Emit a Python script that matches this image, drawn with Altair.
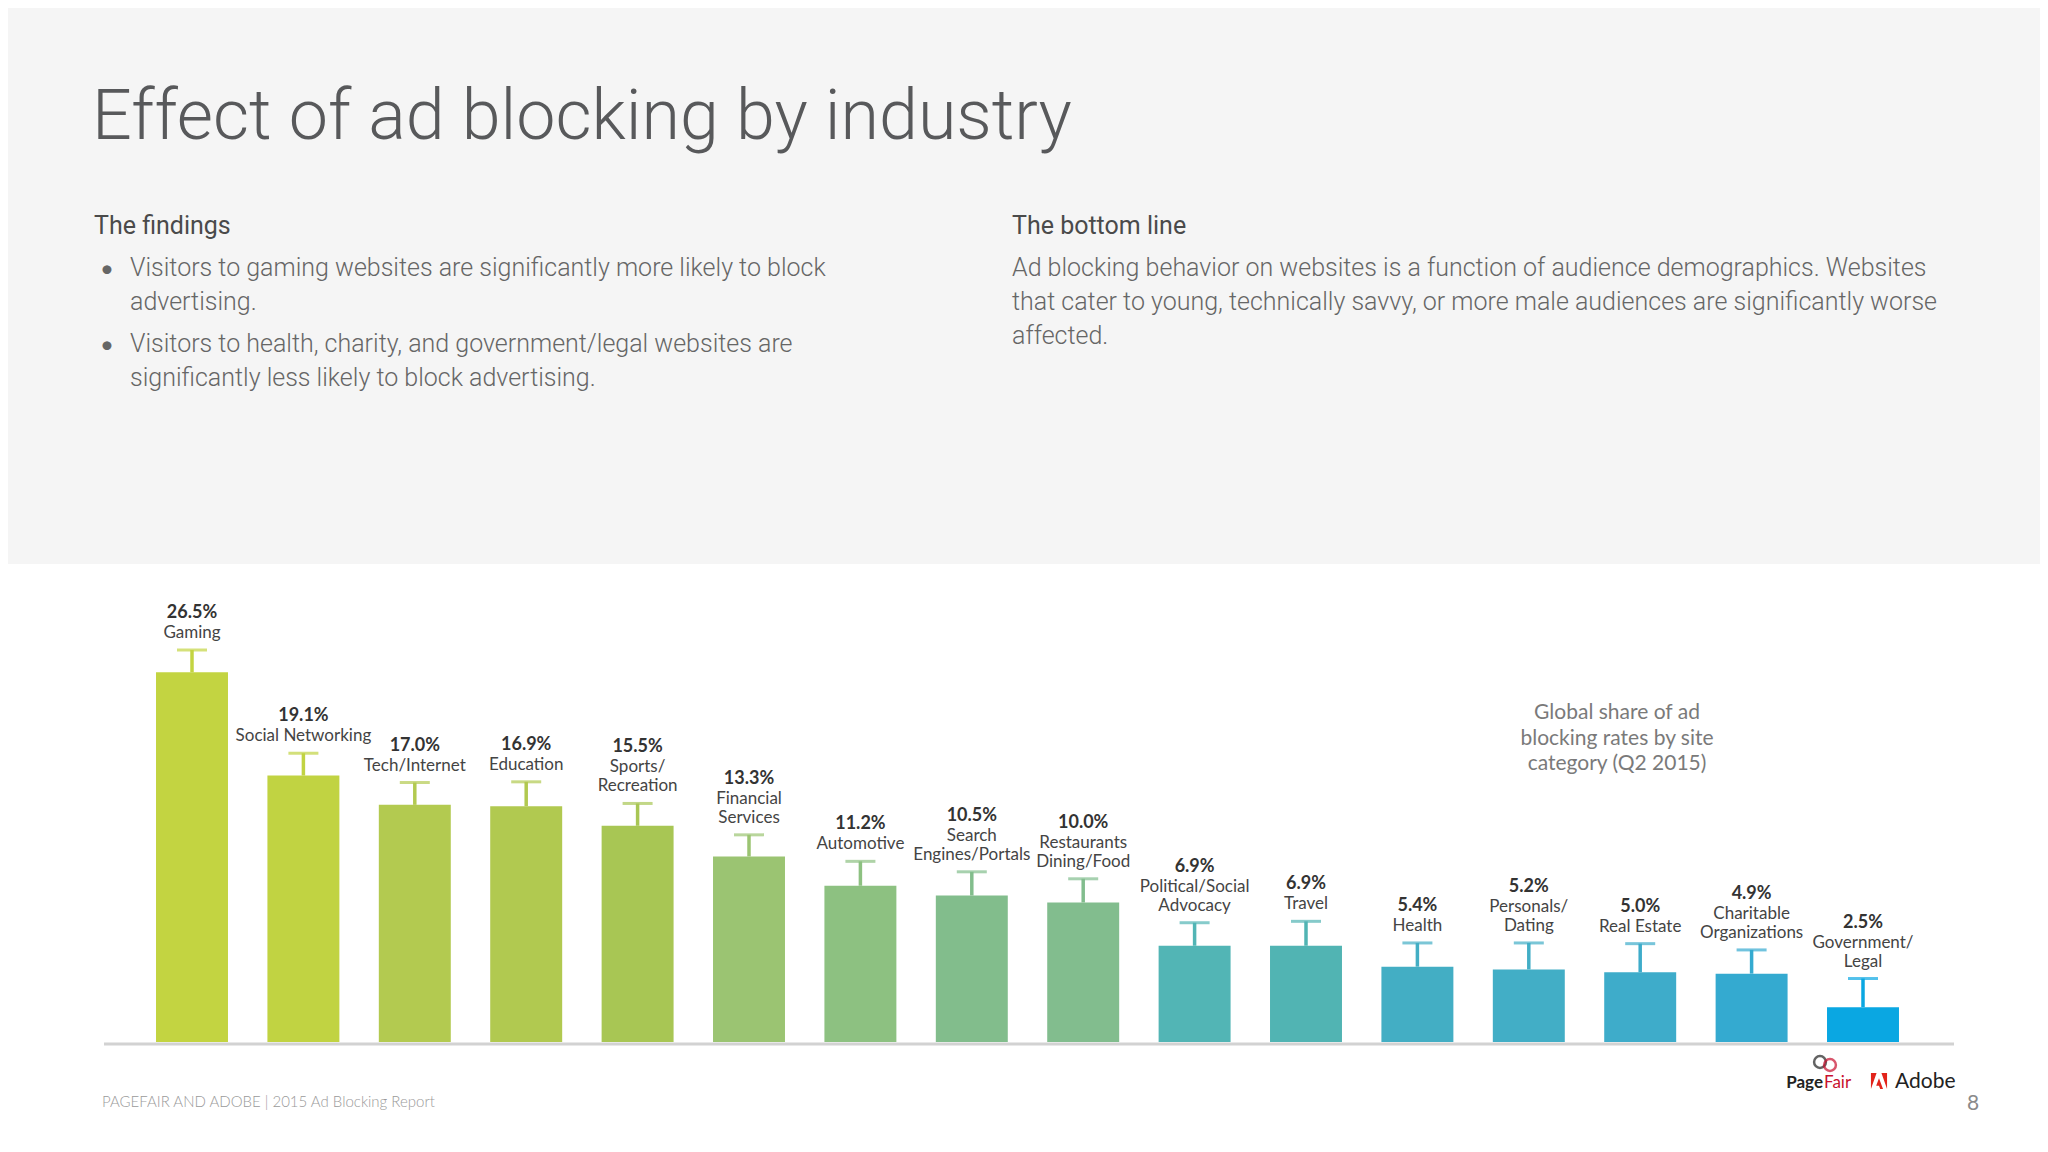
import altair as alt
import pandas as pd

# ---------------- data ----------------
categories = ["Gaming", "Social Networking", "Tech/Internet", "Education",
              "Sports/Recreation", "Financial Services", "Automotive",
              "Search Engines/Portals", "Restaurants Dining/Food",
              "Political/Social Advocacy", "Travel", "Health",
              "Personals/Dating", "Real Estate", "Charitable Organizations",
              "Government/Legal"]
labels = ["Gaming", "Social Networking", "Tech/Internet", "Education",
          "Sports/\nRecreation", "Financial\nServices", "Automotive",
          "Search\nEngines/Portals", "Restaurants\nDining/Food",
          "Political/Social\nAdvocacy", "Travel", "Health",
          "Personals/\nDating", "Real Estate", "Charitable\nOrganizations",
          "Government/\nLegal"]
values = [26.5, 19.1, 17.0, 16.9, 15.5, 13.3, 11.2, 10.5, 10.0,
          6.9, 6.9, 5.4, 5.2, 5.0, 4.9, 2.5]
errors = [1.6, 1.6, 1.6, 1.75, 1.6, 1.55, 1.75, 1.7, 1.7,
          1.65, 1.75, 1.7, 1.9, 2.05, 1.7, 2.05]
colors = ["#c3d441", "#c1d342", "#b3ca50", "#b1c950", "#a8c654", "#9bc472",
          "#8dc181", "#82bd8c", "#82bd8e", "#52b5b5", "#51b4b3", "#43aec4",
          "#42aec6", "#3eacca", "#34aad0", "#0aa7e2"]

title_text = "Effect of ad blocking by industry"
findings_head = "The findings"
findings_1 = ["Visitors to gaming websites are significantly more likely to block",
              "advertising."]
findings_2 = ["Visitors to health, charity, and government/legal websites are",
              "significantly less likely to block advertising."]
bottom_head = "The bottom line"
bottom_lines = ["Ad blocking behavior on websites is a function of audience demographics. Websites",
                "that cater to young, technically savvy, or more male audiences are significantly worse",
                "affected."]
note_lines = ["Global share of ad", "blocking rates by site", "category (Q2 2015)"]
footer_text = "PAGEFAIR AND ADOBE  |  2015 Ad Blocking Report"
page_number = "8"

# ---------------- table ----------------
df = pd.DataFrame({"cat": categories, "label": labels, "val": values, "err": errors})
df["hi"] = df["val"] + df["err"]
df["nlines"] = [s.count("\n") + 1 for s in labels]
df["pct"] = [f"{v:.1f}%" for v in values]

W, H = 2032, 1136
FONT = "Lato"
LIGHT = "Roboto"
one = pd.DataFrame({"k": [0]})

xenc = alt.X("cat:N", sort=categories, axis=None,
             scale=alt.Scale(range=[128.3, 1910.7], paddingInner=0.354, paddingOuter=0.177))
yscale = alt.Scale(domain=[0, 30], range=[1034, 615.5], nice=False, zero=True)
cenc = alt.Color("cat:N", scale=alt.Scale(domain=categories, range=colors), legend=None)


def text_block(lines, x, y, size, color, weight=400, lh=None, align="left",
               baseline="alphabetic", font=FONT):
    d = pd.DataFrame({"t": ["\n".join(lines)]})
    kw = dict(align=align, baseline=baseline, font=font, fontSize=size, color=color,
              fontWeight=weight, lineBreak="\n")
    if lh is not None:
        kw["lineHeight"] = lh
    return alt.Chart(d).mark_text(**kw).encode(x=alt.value(x), y=alt.value(y), text="t:N")


bg = alt.Chart(one).mark_rect(color="#f5f5f5").encode(
    x=alt.value(0), x2=alt.value(W), y=alt.value(0), y2=alt.value(556))

title = text_block([title_text], 84, 131, 70, "#58595b", weight=300, font=LIGHT)
fh = text_block([findings_head], 86, 226, 25, "#4a4a4a", font=LIGHT)
b1 = text_block(["\u2022"], 92, 269, 24, "#666666")
b2 = text_block(["\u2022"], 92, 345, 24, "#666666")
f1 = text_block(findings_1, 122, 248, 25, "#666666", weight=300, lh=34, baseline="top", font=LIGHT)
f2 = text_block(findings_2, 122, 324, 25, "#666666", weight=300, lh=34, baseline="top", font=LIGHT)
bh = text_block([bottom_head], 1004, 226, 25, "#4a4a4a", font=LIGHT)
bl = text_block(bottom_lines, 1004, 248, 25, "#666666", weight=300, lh=34, baseline="top", font=LIGHT)
note = text_block(note_lines, 1609, 694, 21, "#7a7a7a", lh=25.5, align="center", baseline="top")
footer = text_block([footer_text], 94, 1099, 15, "#9a9a9a", weight=300)
pageno = text_block([page_number], 1959, 1102, 21, "#8a8a8a")

base = alt.Chart(df)
Y_VAL = alt.Y("val:Q", scale=yscale, axis=None)
Y_HI = alt.Y("hi:Q", scale=yscale, axis=None)
baseline_rule = alt.Chart(one).mark_rule(color="#d2d2d2", strokeWidth=3).encode(
    x=alt.value(96), x2=alt.value(1946), y=alt.value(1036))
bars = base.mark_bar().encode(x=xenc, y=Y_VAL, color=cenc)
whisk = base.mark_rule(strokeWidth=3.5).encode(x=xenc, y=Y_VAL, y2="hi:Q", color=cenc)
caps = base.mark_tick(orient="horizontal", size=30, thickness=3).encode(
    x=xenc, y=Y_HI, color=cenc)
name_kw = dict(baseline="bottom", font=FONT, fontSize=17, lineHeight=19,
               lineBreak="\n", color="#444444")
names1 = base.transform_filter("datum.nlines == 1").mark_text(dy=-8, **name_kw).encode(
    x=xenc, y=Y_HI, text="label:N")
names2 = base.transform_filter("datum.nlines == 2").mark_text(dy=-27, **name_kw).encode(
    x=xenc, y=Y_HI, text="label:N")
pct_kw = dict(baseline="bottom", font=FONT, fontSize=18, fontWeight="bold", color="#333333")
pct1 = base.transform_filter("datum.nlines == 1").mark_text(dy=-28, **pct_kw).encode(
    x=xenc, y=Y_HI, text="pct:N")
pct2 = base.transform_filter("datum.nlines == 2").mark_text(dy=-47, **pct_kw).encode(
    x=xenc, y=Y_HI, text="pct:N")

# logos (decorative)
pf_text1 = text_block(["Page"], 1815, 1080, 17, "#222222", weight=700, align="right")
pf_text2 = text_block(["Fair"], 1816, 1080, 17, "#c8102e", weight=400)
pf_ring1 = alt.Chart(one).mark_point(shape="circle", size=140, filled=False,
                                     stroke="#222222", strokeWidth=2.5).encode(
    x=alt.value(1812), y=alt.value(1054))
pf_ring2 = alt.Chart(one).mark_point(shape="circle", size=140, filled=False,
                                     stroke="#c8102e", strokeWidth=2.5).encode(
    x=alt.value(1822), y=alt.value(1057))
adobe_path = ("M-1,-1 L-0.3,-1 L-1,1 Z M0.3,-1 L1,-1 L1,1 Z "
              "M0,-0.35 L0.5,1 L0.15,1 L0,0.6 L-0.35,0.6 Z")
adobe_logo = alt.Chart(one).mark_point(shape=adobe_path, size=260, filled=True,
                                       color="#e2231a", opacity=1).encode(
    x=alt.value(1871), y=alt.value(1073))
adobe_text = text_block(["Adobe"], 1887, 1080, 21, "#222222")

chart = alt.layer(
    bg, title, fh, b1, b2, f1, f2, bh, bl, note,
    baseline_rule, bars, whisk, caps, names1, names2, pct1, pct2,
    footer, pageno, pf_ring1, pf_ring2, pf_text1, pf_text2, adobe_logo, adobe_text
).properties(
    width=W, height=H, padding=0,
    autosize=alt.AutoSizeParams(type="none"),
    background="white"
).configure_view(strokeWidth=0)

chart.save("out.html", embed_options={"renderer": "svg", "actions": False})
